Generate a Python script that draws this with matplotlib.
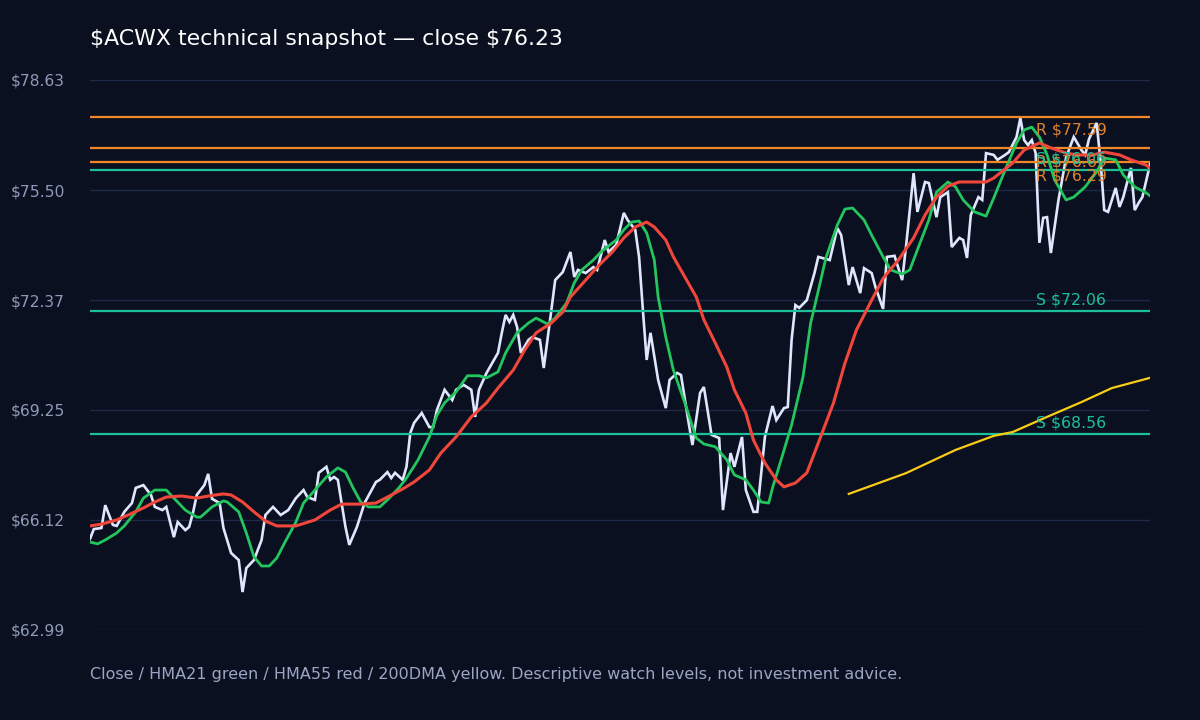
import matplotlib
matplotlib.use("Agg")
import matplotlib.pyplot as plt

# ---------------- data ----------------
close_day = [0, 1, 3, 4, 6, 7, 9, 11, 12, 14, 16, 17, 19, 20, 22, 23, 25, 26, 27, 28,
             30, 31, 32, 34, 35, 37, 39, 40, 41, 43, 45, 46, 48, 50, 52, 54, 56, 57, 59, 60,
             62, 63, 64, 65, 67, 68, 70, 72, 75, 76, 78, 79, 80, 82, 83, 84, 85, 87, 89, 90,
             91, 93, 95, 96, 98, 100, 101, 102, 104, 107, 108, 109, 110, 111, 112, 113, 115, 116, 118, 119,
             121, 122, 124, 126, 127, 128, 130, 132, 133, 135, 136, 138, 140, 141, 143, 144, 145, 146, 147, 149,
             151, 152, 154, 155, 157, 158, 160, 161, 163, 165, 166, 168, 169, 171, 172, 174, 175, 177, 179, 180,
             182, 183, 184, 185, 186, 188, 190, 191, 192, 194, 196, 197, 199, 200, 202, 203, 205, 206, 208, 209,
             211, 212, 213, 214, 216, 217, 219, 220, 222, 223, 225, 226, 228, 229, 230, 231, 233, 234, 235, 237,
             238, 240, 241, 243, 244, 245, 246, 247, 248, 249, 250, 251, 252, 254, 256, 258, 260, 261, 262, 264,
             265, 266, 267, 269, 270, 271, 273, 274, 275, 276, 278]
close_px = [65.58, 65.86, 65.89, 66.54, 65.98, 65.95, 66.35, 66.60, 67.03, 67.11, 66.83, 66.49, 66.40, 66.49, 65.63, 66.06, 65.83, 65.92, 66.32, 66.83,
            67.11, 67.43, 66.72, 66.60, 65.89, 65.18, 64.98, 64.07, 64.75, 64.98, 65.55, 66.26, 66.49, 66.26, 66.40, 66.74, 66.97, 66.77, 66.69, 67.46,
            67.63, 67.26, 67.34, 67.26, 65.92, 65.41, 65.92, 66.60, 67.20, 67.26, 67.48, 67.31, 67.46, 67.26, 67.63, 68.59, 68.88, 69.16, 68.76, 68.76,
            69.25, 69.82, 69.53, 69.82, 69.96, 69.82, 69.05, 69.82, 70.30, 70.87, 71.44, 71.95, 71.75, 71.95, 71.61, 70.87, 71.24, 71.32, 71.24, 70.44,
            72.09, 72.94, 73.17, 73.74, 73.03, 73.23, 73.14, 73.31, 73.23, 74.08, 73.74, 73.94, 74.85, 74.65, 74.37, 73.60, 72.09, 70.67, 71.44, 70.10,
            69.30, 70.10, 70.30, 70.24, 68.88, 68.25, 69.73, 69.90, 68.54, 68.45, 66.40, 68.02, 67.63, 68.48, 66.97, 66.35, 66.35, 68.48, 69.36, 68.96,
            69.30, 69.33, 71.24, 72.23, 72.15, 72.37, 73.14, 73.60, 73.57, 73.51, 74.42, 74.22, 72.80, 73.31, 72.57, 73.28, 73.14, 72.74, 72.12, 73.60,
            73.63, 73.28, 72.94, 73.88, 75.98, 74.88, 75.73, 75.70, 74.73, 75.30, 75.44, 73.88, 74.14, 74.08, 73.57, 74.79, 75.30, 75.22, 76.55, 76.50,
            76.36, 76.50, 76.58, 77.01, 77.55, 76.92, 76.78, 76.92, 76.55, 74.00, 74.71, 74.73, 73.71, 75.22, 76.43, 77.01, 76.64, 76.50, 76.95, 77.41,
            76.36, 74.93, 74.88, 75.56, 75.02, 75.30, 76.13, 74.93, 75.13, 75.30, 76.23]

hma21_day = [0, 2, 4, 7, 9, 12, 14, 17, 20, 22, 25, 28, 29, 32, 35, 36, 39, 41, 43, 45,
             47, 49, 51, 54, 56, 59, 62, 65, 67, 69, 71, 73, 76, 78, 81, 83, 86, 89, 91, 93,
             96, 99, 102, 104, 107, 109, 112, 115, 117, 120, 122, 125, 127, 129, 132, 134, 138, 140, 142, 144,
             146, 148, 149, 151, 153, 156, 159, 161, 164, 167, 169, 172, 174, 176, 178, 179, 181, 184, 187, 189,
             190, 193, 196, 198, 200, 203, 205, 208, 210, 213, 215, 217, 220, 222, 225, 227, 229, 232, 235, 237,
             240, 243, 245, 247, 249, 251, 253, 256, 258, 261, 264, 266, 269, 271, 274, 277, 278]
hma21 = [65.49, 65.44, 65.55, 65.75, 65.95, 66.35, 66.74, 66.97, 66.97, 66.74, 66.40, 66.20, 66.20, 66.49, 66.66, 66.63, 66.35, 65.75, 65.07, 64.81,
         64.81, 65.04, 65.46, 66.06, 66.60, 66.97, 67.34, 67.60, 67.48, 67.03, 66.63, 66.49, 66.49, 66.69, 67.03, 67.31, 67.82, 68.48, 69.10, 69.45,
         69.76, 70.22, 70.22, 70.16, 70.33, 70.87, 71.44, 71.72, 71.86, 71.69, 71.86, 72.29, 72.86, 73.23, 73.51, 73.74, 74.08, 74.37, 74.59, 74.62,
         74.28, 73.51, 72.46, 71.32, 70.38, 69.45, 68.45, 68.28, 68.20, 67.83, 67.40, 67.26, 66.97, 66.63, 66.60, 67.03, 67.74, 68.82, 70.19, 71.72,
         72.17, 73.57, 74.51, 74.96, 74.99, 74.65, 74.22, 73.60, 73.23, 73.11, 73.23, 73.80, 74.65, 75.44, 75.73, 75.59, 75.22, 74.88, 74.76, 75.27,
         76.07, 76.84, 77.21, 77.29, 77.01, 76.50, 75.79, 75.22, 75.30, 75.59, 76.02, 76.41, 76.36, 75.93, 75.59, 75.42, 75.34]

hma55_day = [0, 3, 7, 10, 14, 17, 20, 24, 28, 31, 35, 37, 40, 43, 46, 49, 54, 59, 63, 66,
             71, 75, 78, 82, 85, 89, 92, 96, 100, 104, 107, 111, 114, 117, 121, 124, 126, 130, 133, 137,
             140, 143, 146, 148, 151, 153, 156, 159, 161, 164, 167, 169, 172, 174, 177, 180, 182, 185, 188, 190,
             195, 198, 201, 205, 208, 212, 216, 219, 222, 225, 228, 231, 235, 237, 242, 245, 249, 252, 256, 259,
             263, 266, 270, 273, 277, 278]
hma55 = [65.95, 66.00, 66.12, 66.26, 66.46, 66.63, 66.77, 66.80, 66.74, 66.80, 66.86, 66.83, 66.63, 66.35, 66.09, 65.95, 65.95, 66.12, 66.40, 66.57,
         66.57, 66.60, 66.77, 67.00, 67.20, 67.54, 68.02, 68.48, 69.05, 69.45, 69.87, 70.38, 70.95, 71.44, 71.72, 72.03, 72.46, 72.94, 73.31, 73.74,
         74.14, 74.45, 74.59, 74.45, 74.08, 73.60, 73.03, 72.46, 71.81, 71.15, 70.47, 69.82, 69.16, 68.39, 67.74, 67.26, 67.06, 67.17, 67.46, 68.02,
         69.45, 70.58, 71.52, 72.37, 72.99, 73.51, 74.14, 74.79, 75.30, 75.61, 75.73, 75.73, 75.73, 75.84, 76.27, 76.64, 76.84, 76.70, 76.55, 76.50,
         76.50, 76.58, 76.50, 76.36, 76.21, 76.13]

dma200_day = [199, 214, 227, 237, 242, 251, 260, 268, 278]
dma200 = [66.86, 67.45, 68.11, 68.51, 68.62, 69.05, 69.47, 69.87, 70.16]

resistance = [77.59, 76.69, 76.29]
support = [76.06, 72.06, 68.56]

y_ticks = [62.99, 66.12, 69.25, 72.37, 75.50, 78.63]
y_tick_labels = ["$62.99", "$66.12", "$69.25", "$72.37", "$75.50", "$78.63"]
n_days = 278
label_day = 248

title = "$ACWX technical snapshot \u2014 close $76.23"
footer = "Close / HMA21 green / HMA55 red / 200DMA yellow. Descriptive watch levels, not investment advice."

# ---------------- style ----------------
BG = "#0b1020"
GRID = "#1e2944"
CLOSE_C = "#dfe7ff"
GREEN = "#22c55e"
RED = "#f1473a"
YELLOW = "#facc15"
ORANGE = "#f0882a"
ORANGE_T = "#e0822c"
TEAL = "#1dbf98"
TICK_C = "#8d9bb8"
FOOT_C = "#9aa6c4"

plt.rcParams['font.family'] = ['DejaVu Sans']
plt.rcParams['text.parse_math'] = False

fig = plt.figure(figsize=(12, 7.2), dpi=100, facecolor=BG)
ax = fig.add_axes([90 / 1200, 1 - 630 / 720, 1060 / 1200, 550 / 720])
ax.set_facecolor(BG)

ax.set_xlim(0, n_days)
ax.set_ylim(y_ticks[0], y_ticks[-1])
ax.set_yticks(y_ticks)
ax.set_yticklabels(y_tick_labels)
ax.set_xticks([])
for s in ax.spines.values():
    s.set_visible(False)
ax.tick_params(axis='y', length=0, pad=18, labelsize=11.2, labelcolor=TICK_C)
ax.yaxis.grid(True, color=GRID, linewidth=1.0)
ax.set_axisbelow(True)

ax.plot(close_day, close_px, color=CLOSE_C, lw=1.9, zorder=3, solid_joinstyle='miter')

for lv in resistance:
    ax.axhline(lv, color=ORANGE, lw=1.6, zorder=4)
for lv in support:
    ax.axhline(lv, color=TEAL, lw=1.6, zorder=4)

ax.plot(dma200_day, dma200, color=YELLOW, lw=1.6, zorder=5)
ax.plot(hma21_day, hma21, color=GREEN, lw=2.0, zorder=5)
ax.plot(hma55_day, hma55, color=RED, lw=2.2, zorder=6)

for lv in resistance:
    ax.annotate(f"R ${lv:.2f}", xy=(label_day, lv), xytext=(0, -13.5),
                textcoords='offset pixels', ha='left', va='center',
                fontsize=11.3, color=ORANGE_T, zorder=7)
for lv in support:
    ax.annotate(f"S ${lv:.2f}", xy=(label_day, lv), xytext=(0, 11.5),
                textcoords='offset pixels', ha='left', va='center',
                fontsize=11.3, color=TEAL, zorder=7)

fig.text(90 / 1200, 1 - 39 / 720, title, ha='left', va='center',
         fontsize=15.8, color='#ffffff')
fig.text(90 / 1200, 1 - 675 / 720, footer, ha='left', va='center',
         fontsize=11.5, color=FOOT_C)

fig.savefig("out.png", dpi=100, facecolor=BG)
